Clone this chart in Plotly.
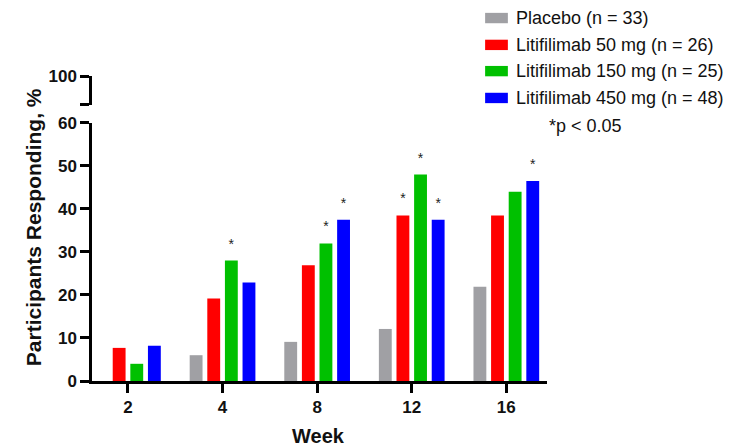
import plotly.graph_objects as go

weeks = ["2", "4", "8", "12", "16"]
series_names = ["Placebo (n = 33)", "Litifilimab 50 mg (n = 26)",
                "Litifilimab 150 mg (n = 25)", "Litifilimab 450 mg (n = 48)"]
placebo = [0, 6.0, 9.1, 12.1, 21.9]
lit50 = [7.7, 19.2, 26.9, 38.5, 38.5]
lit150 = [4.0, 28.0, 32.0, 48.0, 44.0]
lit450 = [8.2, 22.9, 37.5, 37.5, 46.5]
# significance flags (p < 0.05)
sig_placebo = [False] * 5
sig_50 = [False, False, False, True, False]
sig_150 = [False, True, True, True, False]
sig_450 = [False, False, True, True, True]

colors = ["#A0A0A4", "#FF0000", "#00C000", "#0000FF"]
values = [placebo, lit50, lit150, lit450]
sigs = [sig_placebo, sig_50, sig_150, sig_450]

FONT = "Liberation Sans, Arial, sans-serif"
fig = go.Figure()
for i, (name, vals, col) in enumerate(zip(series_names, values, colors)):
    fig.add_trace(go.Bar(
        x=weeks, y=vals, name=name, marker=dict(color=col, line=dict(width=0)),
        offsetgroup=str(i), showlegend=False,
    ))
# significance asterisks, aligned to the bars via grouped scatter mode
for i, (vals, sig) in enumerate(zip(values, sigs)):
    fig.add_trace(go.Scatter(
        x=weeks, y=[v if s else None for v, s in zip(vals, sig)],
        mode="markers+text", text=["*" if s else "" for s in sig], textposition="top center",
        textfont=dict(size=14, color="#222", family=FONT),
        marker=dict(size=12, color="rgba(0,0,0,0)"),
        offsetgroup=str(i), cliponaxis=False, showlegend=False, hoverinfo="skip",
    ))
# empty trace to display upper (broken) axis segment
fig.add_trace(go.Scatter(x=[], y=[], yaxis="y2", showlegend=False, hoverinfo="skip"))

axis_common = dict(showline=True, linewidth=2.5, linecolor="black", ticks="outside",
                   ticklen=9, tickwidth=2.5, tickcolor="black", showgrid=False, zeroline=False,
                   tickfont=dict(family=FONT, size=17, color="#111", weight="bold"))

fig.update_layout(
    width=724, height=439,
    margin=dict(l=84, r=185, t=68, b=66),
    plot_bgcolor="white", paper_bgcolor="white",
    barmode="group", bargap=0.255, bargroupgap=0.27,
    scattermode="group", scattergap=0.255,
    xaxis=dict(type="category", range=[-0.38, 4.43], anchor="y", **axis_common),
    yaxis=dict(domain=[0, 0.846], range=[0, 60], tickvals=[0, 10, 20, 30, 40, 50, 60], **axis_common),
    yaxis2=dict(domain=[0.905, 1.0], range=[94, 100], tickvals=[94, 100], ticktext=["", "100"],
                anchor="x", **axis_common),
    font=dict(family=FONT),
)

annotations = [
    dict(text="Participants Responding, %", xref="paper", yref="paper", x=-0.127, y=0.505,
         xanchor="center", yanchor="middle",
         textangle=-90, showarrow=False, font=dict(family=FONT, size=21, color="#111", weight="bold")),
    dict(text="Week", xref="paper", yref="paper", x=0.497, y=-0.181, xanchor="center", yanchor="middle",
         showarrow=False, font=dict(family=FONT, size=20, color="#111", weight="bold")),
]
# manual legend
leg_y = [1.190, 1.102, 1.016, 0.928]
shapes = []
for name, col, yy in zip(series_names, colors, leg_y):
    shapes.append(dict(type="rect", xref="paper", yref="paper", x0=0.864, x1=0.914,
                       y0=yy - 0.017, y1=yy + 0.017, fillcolor=col, line=dict(width=0)))
    annotations.append(dict(text=name, xref="paper", yref="paper", x=0.928, y=yy,
                            xanchor="left", yanchor="middle",
                            showarrow=False, font=dict(family=FONT, size=18, color="#111")))
annotations.append(dict(text="*p < 0.05", xref="paper", yref="paper", x=1.0, y=0.836,
                        xanchor="left", yanchor="middle",
                        showarrow=False, font=dict(family=FONT, size=18, color="#111")))
fig.update_layout(annotations=annotations, shapes=shapes)

fig.write_html("out.html")
